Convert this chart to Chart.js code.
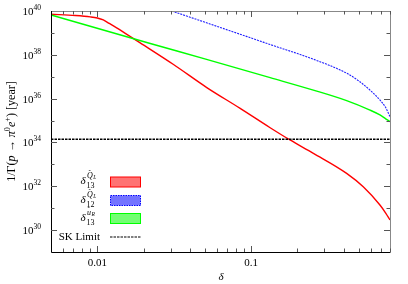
<!DOCTYPE html>
<html><head><meta charset="utf-8">
<script src="https://cdn.jsdelivr.net/npm/chart.js@4"></script>
<style>html,body{margin:0;padding:0;background:#fff}canvas{display:block}</style>
</head><body>
<div style="width:408px;height:284px"><canvas id="c" width="408" height="284"></canvas></div>
<script>
// ---- data ----
const deltaRed = [0.005, 0.0072, 0.009, 0.01, 0.01094, 0.01197, 0.01328, 0.0152, 0.019, 0.0313, 0.0515, 0.0849, 0.133, 0.179, 0.254, 0.418, 0.536, 0.688, 0.75, 0.8];
const lifetimeRed = [7.1e39, 6.2e39, 5.4e39, 4.8e39, 3.9e39, 2.7e39, 1.75e39, 9.6e38, 3.5e38, 3.6e37, 3.2e36, 3.6e35, 4.7e34, 1.3e34, 3.2e33, 3.9e32, 9.5e31, 1.4e31, 6.0e30, 2.9e30];

const deltaBlue = [0.0305, 0.0702, 0.133, 0.254, 0.418, 0.5, 0.593, 0.688, 0.75, 0.8];
const lifetimeBlue = [1.0e40, 1.37e39, 2.95e38, 6.3e37, 1.45e37, 6.5e36, 2.45e36, 8.7e35, 3.9e35, 1.5e35];

const deltaGreen = [0.005, 0.0221, 0.05, 0.133, 0.254, 0.418, 0.593, 0.688, 0.75, 0.8];
const lifetimeGreen = [6.6e39, 3.3e38, 6.5e37, 9.1e36, 2.45e36, 8.1e35, 3.0e35, 1.8e35, 1.2e35, 8.9e34];

const deltaSK = [0.005, 0.8];
const lifetimeSK = [1.4e34, 1.4e34];

const xTickValues = [0.01, 0.1];
const xTickLabels = ['0.01', '0.1'];
const yLabelExponents = [30, 32, 34, 36, 38, 40];
const yAllExponents = [29, 30, 31, 32, 33, 34, 35, 36, 37, 38, 39, 40];

const seriesNames = ['delta13QL', 'delta12QL', 'delta13uR', 'SK Limit'];

const toPts = (xs, ys) => xs.map((x, i) => ({x: x, y: ys[i]}));

const SERIF = '"Liberation Serif", "DejaVu Serif", serif';

function drawSegments(ctx, x, y, segs, k) {
  k = k || 1;
  let cx = x;
  for (const s of segs) {
    ctx.font = (s.style || '') + ' ' + (s.size * k) + 'px ' + SERIF;
    ctx.fillText(s.t, cx, y + (s.dy || 0) * k);
    cx += ctx.measureText(s.t).width;
  }
  return cx;
}
function measureSegments(ctx, segs, k) {
  k = k || 1;
  let w = 0;
  for (const s of segs) {
    ctx.font = (s.style || '') + ' ' + (s.size * k) + 'px ' + SERIF;
    w += ctx.measureText(s.t).width;
  }
  return w;
}

const framePlugin = {
  id: 'frame',
  afterDraw(chart) {
    const ctx = chart.ctx;
    const a = chart.chartArea;
    const xs = chart.scales.x, ys = chart.scales.y;
    ctx.save();
    // frame
    ctx.lineWidth = 1;
    ctx.strokeStyle = '#888';
    ctx.beginPath();
    ctx.moveTo(a.left, a.top + 0.5); ctx.lineTo(a.right + 0.5, a.top + 0.5); ctx.lineTo(a.right + 0.5, a.bottom);
    ctx.stroke();
    ctx.strokeStyle = '#000';
    ctx.beginPath();
    ctx.moveTo(a.left + 0.5, a.top); ctx.lineTo(a.left + 0.5, a.bottom + 0.5); ctx.lineTo(a.right + 0.5, a.bottom + 0.5);
    ctx.stroke();

    // x ticks
    ctx.strokeStyle = '#555';
    const xMinor = [];
    for (const dec of [0.001, 0.01, 0.1]) for (let k = 1; k <= 9; k++) xMinor.push(+(k * dec).toPrecision(3));
    for (const v of xMinor) {
      if (v <= 0.005 || v > 0.8) continue;
      const major = xTickValues.includes(v);
      const len = major ? 6 : 3.5;
      const px = Math.round(xs.getPixelForValue(v)) + 0.5;
      ctx.beginPath();
      ctx.moveTo(px, a.bottom); ctx.lineTo(px, a.bottom - len);
      ctx.moveTo(px, a.top); ctx.lineTo(px, a.top + len);
      ctx.stroke();
    }
    // y ticks
    for (const e of yAllExponents) {
      if (e === 29 || e === 40) continue;
      const major = yLabelExponents.includes(e);
      const len = major ? 6 : 3.5;
      const py = Math.round(ys.getPixelForValue(Math.pow(10, e))) + 0.5;
      ctx.beginPath();
      ctx.moveTo(a.left, py); ctx.lineTo(a.left + len, py);
      ctx.moveTo(a.right, py); ctx.lineTo(a.right - len, py);
      ctx.stroke();
    }

    ctx.fillStyle = '#000';
    ctx.textBaseline = 'alphabetic';
    // x tick labels
    ctx.font = '11px ' + SERIF;
    ctx.textAlign = 'center';
    xTickValues.forEach((v, i) => {
      ctx.fillText(xTickLabels[i], xs.getPixelForValue(v), 266);
    });
    // y tick labels 10^n
    ctx.textAlign = 'left';
    for (const e of yLabelExponents) {
      const py = ys.getPixelForValue(Math.pow(10, e));
      const segs = [{t: '10', size: 11}, {t: String(e), size: 7.5, dy: -5}];
      const w = measureSegments(ctx, segs);
      drawSegments(ctx, 41 - w, py + 4, segs);
    }
    // x title
    ctx.font = 'italic 11px ' + SERIF;
    ctx.textAlign = 'center';
    ctx.fillText('δ', 221, 280);
    // y title rotated, fitted to the reference length
    ctx.save();
    ctx.translate(15, 131.5);
    ctx.rotate(-Math.PI / 2);
    ctx.textAlign = 'left';
    const ysegs = [
      {t: '1/Γ(', size: 11}, {t: 'p', size: 11, style: 'italic'}, {t: ' → ', size: 11},
      {t: 'π', size: 11, style: 'italic'}, {t: '0', size: 7.5, dy: -5}, {t: 'e', size: 11, style: 'italic'},
      {t: '+', size: 7.5, dy: -5}, {t: ') [year]', size: 11}
    ];
    const w0 = measureSegments(ctx, ysegs, 1);
    const k = Math.min(1.1, 107 / w0);
    const yw = measureSegments(ctx, ysegs, k);
    drawSegments(ctx, -yw / 2, 0, ysegs, k);
    ctx.restore();

    // legend
    const rows = [
      {cy: 182, sub: '13', sup: 'Q', supSub: 'L', fill: 'rgba(255,0,0,0.55)', stroke: '#ff0000', dash: []},
      {cy: 200.5, sub: '12', sup: 'Q', supSub: 'L', fill: 'rgba(0,0,255,0.55)', stroke: '#0000ff', dash: [1.5, 1]},
      {cy: 218.5, sub: '13', sup: 'u', supSub: 'R', fill: 'rgba(0,255,0,0.55)', stroke: '#00ff00', dash: []}
    ];
    ctx.textAlign = 'left';
    for (const r of rows) {
      ctx.font = 'italic 11px ' + SERIF;
      ctx.fillText('δ', 80.5, r.cy + 2);
      ctx.font = '8px ' + SERIF;
      ctx.fillText(r.sub, 86.5, r.cy + 6);
      ctx.font = 'italic 8px ' + SERIF;
      ctx.fillText(r.sup, 87, r.cy - 4);
      const qw = ctx.measureText(r.sup).width;
      ctx.font = '7px ' + SERIF;
      ctx.fillText('ˆ', 87 + qw / 2 - 1.5, r.cy - 8);
      ctx.font = 'italic 5.5px ' + SERIF;
      ctx.fillText(r.supSub, 87 + qw + 0.5, r.cy - 3);
      ctx.fillStyle = r.fill;
      ctx.fillRect(110.5, r.cy - 5, 30, 10);
      ctx.strokeStyle = r.stroke;
      ctx.lineWidth = 1;
      ctx.setLineDash(r.dash);
      ctx.strokeRect(110.5, r.cy - 5, 30, 10);
      ctx.setLineDash([]);
      ctx.fillStyle = '#000';
    }
    ctx.font = '11px ' + SERIF;
    ctx.textAlign = 'right';
    ctx.fillText(seriesNames[3], 100, 240);
    ctx.strokeStyle = '#000';
    ctx.lineWidth = 1.2;
    ctx.setLineDash([2.5, 1]);
    ctx.beginPath();
    ctx.moveTo(110, 237); ctx.lineTo(141, 237);
    ctx.stroke();
    ctx.setLineDash([]);
    ctx.restore();
  }
};

new Chart(document.getElementById('c'), {
  type: 'line',
  data: {
    datasets: [
      {label: seriesNames[3], data: toPts(deltaSK, lifetimeSK), borderColor: '#000', borderWidth: 1.3, borderDash: [2.5, 1], pointRadius: 0, fill: false},
      {label: seriesNames[2], data: toPts(deltaGreen, lifetimeGreen), borderColor: '#00ff00', borderWidth: 1.4, pointRadius: 0, fill: false, cubicInterpolationMode: 'monotone'},
      {label: seriesNames[1], data: toPts(deltaBlue, lifetimeBlue), borderColor: '#2020ff', borderWidth: 1.1, borderDash: [2, 1], pointRadius: 0, fill: false, cubicInterpolationMode: 'monotone'},
      {label: seriesNames[0], data: toPts(deltaRed, lifetimeRed), borderColor: '#ff0000', borderWidth: 1.4, pointRadius: 0, fill: false, cubicInterpolationMode: 'monotone'}
    ]
  },
  options: {
    responsive: false,
    devicePixelRatio: 1,
    animation: false,
    layout: {padding: {left: 51, right: 18, top: 11, bottom: 32}},
    plugins: {legend: {display: false}, tooltip: {enabled: false}},
    scales: {
      x: {type: 'logarithmic', min: 0.005, max: 0.8, display: false},
      y: {type: 'logarithmic', min: 1e29, max: 1e40, display: false}
    }
  },
  plugins: [framePlugin]
});
</script>
</body></html>
